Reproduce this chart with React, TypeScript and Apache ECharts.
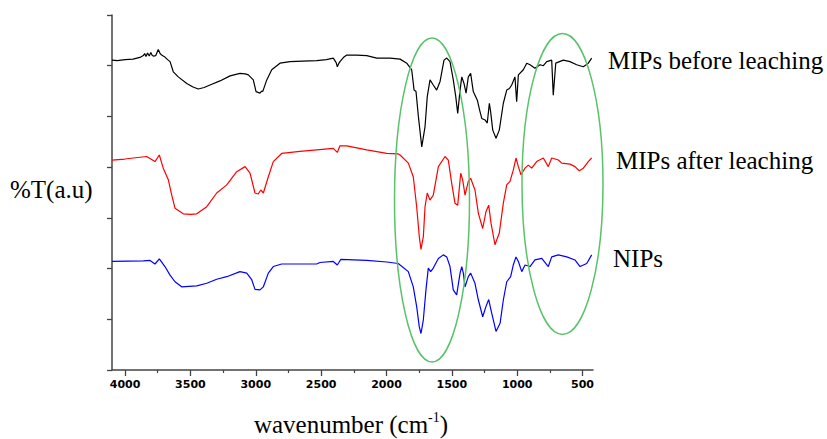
import React, { useEffect, useRef } from "react";
import * as echarts from "echarts";

// wavenumber (cm-1), %T in arbitrary units (one unit = one y tick)
const mipsBefore: [number, number][] = [
  [4100, 6.11], [4060, 6.1], [4000, 6.12], [3939, 6.13], [3880, 6.17], [3860, 6.2], [3850, 6.24],
  [3840, 6.18], [3828, 6.25], [3815, 6.19], [3803, 6.26], [3792, 6.2], [3784, 6.19], [3765, 6.2],
  [3746, 6.32], [3732, 6.24], [3720, 6.21], [3708, 6.19], [3695, 6.17], [3675, 6.12], [3656, 6.08],
  [3631, 5.88], [3593, 5.78], [3528, 5.65], [3480, 5.58], [3440, 5.54], [3395, 5.57], [3350, 5.62],
  [3274, 5.7], [3197, 5.8], [3121, 5.85], [3080, 5.84], [3057, 5.82], [3019, 5.72], [2998, 5.49],
  [2968, 5.46], [2955, 5.5], [2947, 5.49], [2916, 5.72], [2878, 5.92], [2815, 6.05], [2738, 6.08],
  [2640, 6.09], [2534, 6.1], [2460, 6.12], [2407, 6.15], [2385, 6.06], [2376, 5.98], [2366, 6.04],
  [2356, 6.08], [2330, 6.16], [2304, 6.21], [2230, 6.21], [2151, 6.2], [2075, 6.15], [1973, 6.15],
  [1896, 6.13], [1845, 6.05], [1807, 5.92], [1789, 5.52], [1774, 5.49], [1756, 5.0], [1730, 4.4],
  [1705, 4.8], [1688, 5.39], [1667, 5.72], [1642, 5.62], [1616, 5.52], [1590, 5.69], [1560, 6.11],
  [1539, 6.15], [1514, 6.08], [1489, 5.72], [1470, 5.39], [1455, 5.06], [1437, 5.52], [1424, 5.78],
  [1407, 5.65], [1391, 5.46], [1374, 5.78], [1356, 5.85], [1336, 5.49], [1305, 5.32], [1285, 5.1],
  [1271, 4.96], [1246, 4.93], [1229, 4.87], [1213, 5.26], [1203, 5.09], [1187, 4.73], [1162, 4.57],
  [1137, 4.73], [1106, 5.26], [1080, 5.52], [1060, 5.55], [1042, 5.62], [1017, 5.78], [1004, 5.29],
  [991, 5.82], [953, 5.92], [927, 6.05], [902, 6.02], [864, 5.95], [825, 6.02], [800, 6.0],
  [774, 6.08], [736, 6.11], [724, 5.42], [705, 6.05], [647, 6.11], [596, 6.08], [545, 6.02],
  [494, 5.98], [456, 6.05], [430, 6.15],
];

const mipsAfter: [number, number][] = [
  [4100, 4.14], [4000, 4.16], [3937, 4.18], [3835, 4.21], [3771, 4.11], [3738, 4.24], [3708, 3.98],
  [3669, 3.75], [3643, 3.45], [3618, 3.19], [3555, 3.08], [3500, 3.07], [3452, 3.08], [3375, 3.22],
  [3299, 3.49], [3222, 3.65], [3146, 3.91], [3082, 4.01], [3044, 3.88], [3006, 3.49], [2981, 3.47],
  [2962, 3.55], [2942, 3.49], [2904, 3.81], [2866, 4.11], [2802, 4.27], [2662, 4.31], [2534, 4.34],
  [2407, 4.37], [2376, 4.29], [2356, 4.42], [2304, 4.42], [2151, 4.34], [1998, 4.27], [1910, 4.26],
  [1896, 4.24], [1833, 4.08], [1795, 3.81], [1769, 3.22], [1749, 2.63], [1736, 2.38], [1718, 2.63],
  [1705, 3.22], [1688, 3.49], [1667, 3.35], [1642, 3.45], [1603, 4.01], [1552, 4.21], [1527, 4.14],
  [1501, 3.68], [1476, 3.29], [1455, 3.25], [1432, 3.88], [1417, 3.75], [1399, 3.45], [1374, 3.72],
  [1356, 3.78], [1323, 3.55], [1297, 3.09], [1264, 2.79], [1239, 3.12], [1218, 3.25], [1200, 2.89],
  [1170, 2.47], [1137, 2.7], [1106, 3.29], [1080, 3.65], [1055, 3.72], [1030, 3.94], [1009, 4.18],
  [991, 4.01], [971, 3.85], [940, 3.98], [915, 4.04], [889, 3.98], [851, 4.11], [800, 4.18],
  [762, 4.01], [736, 4.18], [685, 4.14], [659, 4.08], [596, 4.06], [558, 4.01], [525, 3.93],
  [494, 3.98], [456, 4.11], [430, 4.18],
];

const nips: [number, number][] = [
  [4100, 2.14], [3860, 2.15], [3809, 2.16], [3771, 2.09], [3738, 2.19], [3695, 2.04], [3656, 1.87],
  [3618, 1.74], [3567, 1.64], [3452, 1.66], [3375, 1.71], [3299, 1.79], [3222, 1.84], [3121, 1.94],
  [3069, 1.91], [3031, 1.78], [3006, 1.59], [2968, 1.58], [2942, 1.64], [2904, 1.91], [2866, 2.04],
  [2802, 2.09], [2534, 2.09], [2509, 2.12], [2407, 2.14], [2376, 2.07], [2350, 2.18], [2151, 2.16],
  [1998, 2.13], [1910, 2.1], [1896, 2.07], [1833, 1.94], [1795, 1.64], [1769, 1.25], [1749, 0.85],
  [1736, 0.72], [1718, 0.99], [1698, 1.58], [1680, 2.01], [1662, 1.94], [1642, 2.01], [1603, 2.2],
  [1565, 2.27], [1539, 2.23], [1514, 2.04], [1489, 1.58], [1463, 1.48], [1437, 1.91], [1424, 2.04],
  [1412, 1.91], [1399, 1.64], [1374, 1.84], [1356, 1.91], [1323, 1.71], [1297, 1.38], [1264, 1.05],
  [1239, 1.25], [1218, 1.39], [1195, 1.12], [1162, 0.76], [1131, 0.92], [1106, 1.38], [1080, 1.74],
  [1050, 1.84], [1030, 2.07], [1009, 2.23], [991, 2.14], [965, 1.94], [940, 2.07], [902, 2.04],
  [864, 2.17], [812, 2.2], [762, 2.04], [736, 2.23], [685, 2.27], [621, 2.23], [558, 2.17],
  [519, 2.04], [468, 2.1], [430, 2.27],
];

const majorTicks = [500, 1000, 1500, 2000, 2500, 3000, 3500, 4000];
const minorTicks = [750, 1250, 1750, 2250, 2750, 3250, 3750];

const seriesNames = ["MIPs before leaching", "MIPs after leaching", "NIPs"];
const seriesColors = ["#000000", "#ff0000", "#0000ff"];

const serif = "'Liberation Serif', 'Times New Roman', serif";

export default function App() {
  const ref = useRef<HTMLDivElement>(null);
  useEffect(() => {
    if (!ref.current) return;
    const chart = echarts.init(ref.current, undefined, { renderer: "svg" });
    const axisColor = "#444";
    const datasets = [mipsBefore, mipsAfter, nips];
    chart.setOption({
      animation: false,
      backgroundColor: "#ffffff",
      grid: { left: 112, right: 234, top: 15, bottom: 69, containLabel: false },
      xAxis: [
        {
          type: "value",
          inverse: true,
          min: 420,
          max: 4100,
          position: "bottom",
          axisLine: { show: true, onZero: false, lineStyle: { color: axisColor, width: 1.5 } },
          axisTick: { show: true, customValues: majorTicks, length: 6, lineStyle: { color: axisColor, width: 1.3 } },
          axisLabel: {
            customValues: majorTicks,
            formatter: (v: number) => String(v),
            margin: 9,
            fontFamily: "'DejaVu Sans', sans-serif",
            fontWeight: "bold",
            fontSize: 11,
            color: "#000",
          },
          splitLine: { show: false },
        },
        {
          type: "value",
          inverse: true,
          min: 420,
          max: 4100,
          position: "bottom",
          axisLine: { show: false, onZero: false },
          axisTick: { show: true, customValues: minorTicks, length: 3, lineStyle: { color: axisColor, width: 1.2 } },
          axisLabel: { show: false },
          splitLine: { show: false },
        },
      ],
      yAxis: {
        type: "value",
        min: 0,
        max: 7,
        interval: 1,
        axisLine: { show: true, onZero: false, lineStyle: { color: axisColor, width: 1.5 } },
        axisTick: { show: true, length: 5, lineStyle: { color: axisColor, width: 1.3 } },
        axisLabel: { show: false },
        splitLine: { show: false },
      },
      series: datasets.map((d, i) => ({
        name: seriesNames[i],
        type: "line",
        xAxisIndex: 0,
        data: d,
        showSymbol: false,
        symbol: "none",
        silent: true,
        lineStyle: { color: seriesColors[i], width: 1.2 },
      })),
      graphic: [
        {
          type: "ellipse",
          shape: { cx: 432, cy: 200, rx: 37.5, ry: 162 },
          style: { fill: "none", stroke: "#5ac26a", lineWidth: 1.5 },
          z: 10,
        },
        {
          type: "ellipse",
          shape: { cx: 562.5, cy: 184, rx: 40.5, ry: 150.5 },
          style: { fill: "none", stroke: "#5ac26a", lineWidth: 1.5 },
          z: 10,
        },
        {
          type: "text",
          x: 608,
          y: 60,
          style: { text: seriesNames[0], font: `25px ${serif}`, fill: "#000", verticalAlign: "middle", align: "left" },
        },
        {
          type: "text",
          x: 616,
          y: 160,
          style: { text: seriesNames[1], font: `25px ${serif}`, fill: "#000", verticalAlign: "middle", align: "left" },
        },
        {
          type: "text",
          x: 613,
          y: 258,
          style: { text: seriesNames[2], font: `25px ${serif}`, fill: "#000", verticalAlign: "middle", align: "left" },
        },
        {
          type: "text",
          x: 10,
          y: 189,
          style: { text: "%T(a.u)", font: `25px ${serif}`, fill: "#000", verticalAlign: "middle", align: "left" },
        },
        {
          type: "text",
          x: 351,
          y: 424,
          style: {
            text: "{a|wavenumber (cm}{s|-1}{a|)}",
            align: "center",
            verticalAlign: "middle",
            rich: {
              a: { fontFamily: serif, fontSize: 25, fill: "#000" },
              s: { fontFamily: serif, fontSize: 14, fill: "#000", padding: [0, 0, 14, 0] },
            },
          },
        },
      ],
    });
    return () => chart.dispose();
  }, []);
  return (
    <div
      ref={ref}
      style={{ position: "fixed", left: 0, top: 0, width: 827, height: 439, background: "#fff" }}
    />
  );
}
